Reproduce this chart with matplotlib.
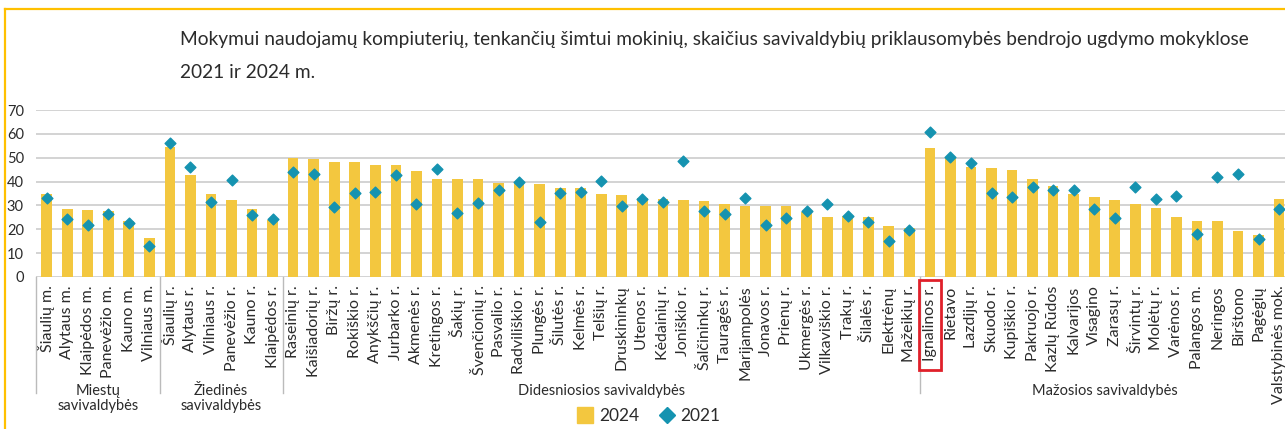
import matplotlib
matplotlib.use("Agg")
import matplotlib.pyplot as plt
from matplotlib.transforms import blended_transform_factory
from matplotlib.lines import Line2D
from matplotlib.patches import Rectangle

plt.rcParams['font.family'] = ['Lato', 'DejaVu Sans']

# savivaldybės ir grupės
miestu = ['Šiaulių m.', 'Alytaus m.', 'Klaipėdos m.', 'Panevėžio m.', 'Kauno m.', 'Vilniaus m.']
ziedines = ['Šiaulių r.', 'Alytaus r.', 'Vilniaus r.', 'Panevėžio r.', 'Kauno r.', 'Klaipėdos r.']
didesniosios = ['Raseinių r.', 'Kaišiadorių r.', 'Biržų r.', 'Rokiškio r.', 'Anykščių r.',
                'Jurbarko r.', 'Akmenės r.', 'Kretingos r.', 'Šakių r.', 'Švenčionių r.',
                'Pasvalio r.', 'Radviliškio r.', 'Plungės r.', 'Šilutės r.', 'Kelmės r.',
                'Telšių r.', 'Druskininkų', 'Utenos r.', 'Kėdainių r.', 'Joniškio r.',
                'Šalčininkų r.', 'Tauragės r.', 'Marijampolės', 'Jonavos r.', 'Prienų r.',
                'Ukmergės r.', 'Vilkaviškio r.', 'Trakų r.', 'Šilalės r.', 'Elektrėnų',
                'Mažeikių r.']
mazosios = ['Ignalinos r.', 'Rietavo', 'Lazdijų r.', 'Skuodo r.', 'Kupiškio r.', 'Pakruojo r.',
            'Kazlų Rūdos', 'Kalvarijos', 'Visagino', 'Zarasų r.', 'Širvintų r.', 'Molėtų r.',
            'Varėnos r.', 'Palangos m.', 'Neringos', 'Birštono', 'Pagėgių']
kita = ['Valstybinės mok.']

labels = miestu + ziedines + didesniosios + mazosios + kita

v2024 = [35.0, 28.7, 28.0, 27.7, 23.5, 16.5,
         54.6, 42.6, 34.7, 32.2, 28.4, 24.1,
         50.0, 49.6, 48.3, 48.3, 47.1, 47.1, 44.5, 40.9, 40.9, 40.9,
         39.5, 39.5, 39.1, 37.5, 37.5, 35.0, 34.2, 33.3, 32.9, 32.2,
         31.8, 30.5, 29.7, 29.7, 29.7, 27.3, 25.1, 25.5, 25.1, 21.3, 20.4,
         54.2, 50.4, 46.2, 45.8, 44.8, 40.9, 38.2, 34.6, 33.6, 32.1,
         30.8, 29.1, 25.1, 23.4, 23.4, 19.2, 17.5,
         32.5]
v2021 = [33.2, 24.5, 21.6, 26.2, 22.5, 12.9,
         56.0, 46.1, 31.5, 40.6, 25.8, 24.5,
         44.0, 43.3, 29.4, 35.4, 35.7, 42.7, 30.7, 45.2, 26.9, 31.1,
         36.6, 39.9, 23.1, 35.3, 35.6, 40.3, 29.8, 32.5, 31.5, 48.6,
         27.7, 26.5, 33.3, 22.0, 24.9, 27.5, 30.7, 25.5, 23.1, 15.0, 19.6,
         60.6, 50.3, 47.8, 35.3, 33.6, 37.8, 36.6, 36.6, 28.3, 24.9,
         37.8, 32.9, 34.0, 18.2, 41.9, 43.3, 15.8,
         28.7]

groups = [('Miestų\nsavivaldybės', len(miestu)),
          ('Žiedinės\nsavivaldybės', len(ziedines)),
          ('Didesniosios savivaldybės', len(didesniosios)),
          ('Mažosios savivaldybės', len(mazosios) + len(kita))]

bar_color = '#F3C73F'
dot_color = '#1593B0'
text_color = '#2b2b2b'

W, H = 1285, 429
fig = plt.figure(figsize=(W / 100, H / 100), dpi=100)
ax = fig.add_axes([36.4 / W, (H - 277) / H, (W - 36.4) / W, 167 / H])

x = list(range(len(labels)))
ax.bar(x, v2024, width=0.52, color=bar_color, zorder=2)
ax.scatter(x, v2021, marker='D', s=30, color=dot_color, zorder=3, clip_on=False)

ax.set_xlim(-0.5, (W - 46.7) / 20.54)
ax.set_ylim(0, 70)
ax.set_yticks(range(0, 71, 10))
ax.grid(axis='y', color='#c8c8c8', linewidth=1.1, zorder=0)
ax.set_axisbelow(True)
for s in ax.spines.values():
    s.set_visible(False)
ax.tick_params(axis='y', length=0, pad=9, labelsize=10.5, labelcolor=text_color)
ax.tick_params(axis='x', length=0, pad=6)
ax.set_xticks(x)
ax.set_xticklabels(labels, rotation=90, fontsize=11.5, color=text_color, va='top', ha='center')

# grupių skyrikliai ir pavadinimai
tr = blended_transform_factory(ax.transData, ax.transAxes)
start = 0
seps = [-0.5]
for name, n in groups:
    center = start + (n - 1) / 2
    ax.text(center, -0.64, name, transform=tr, ha='center', va='top',
            fontsize=10.5, color=text_color, linespacing=1.1)
    start += n
    seps.append(start - 0.5)
for s in seps[:-1]:
    ax.add_line(Line2D([s, s], [0, -0.695], transform=tr, color='#bbbbbb',
                       linewidth=1, clip_on=False))

# Ignalinos r. rėmelis
ign = labels.index('Ignalinos r.')
ax.add_patch(Rectangle((ign - 0.54, -0.557), 1.08, 0.54, transform=tr, fill=False,
                       edgecolor='#e0202a', linewidth=2, clip_on=False, zorder=5))

# legenda
handles = [Line2D([], [], marker='s', linestyle='', markersize=11, color=bar_color),
           Line2D([], [], marker='D', linestyle='', markersize=8, color=dot_color)]
fig.legend(handles, ['2024', '2021'], loc='center', bbox_to_anchor=(0.504, 13 / H),
           ncol=2, frameon=False, fontsize=12.5, handletextpad=0.2, columnspacing=1.0,
           handlelength=1.2, labelcolor=text_color)

# antraštė
fig.text(180 / W, 1 - 40 / H,
         'Mokymui naudojamų kompiuterių, tenkančių šimtui mokinių, skaičius savivaldybių priklausomybės bendrojo ugdymo mokyklose',
         fontsize=13.8, color=text_color, va='center', ha='left')
fig.text(180 / W, 1 - 72 / H, '2021 ir 2024 m.',
         fontsize=13.8, color=text_color, va='center', ha='left')

# rėmas
fig.add_artist(Line2D([5 / W, 5 / W], [0, 1 - 9 / H], color='#FFC000', linewidth=1.6))
fig.add_artist(Line2D([5 / W, 1], [1 - 9 / H, 1 - 9 / H], color='#FFC000', linewidth=1.6))

fig.savefig('out.png', dpi=100)
